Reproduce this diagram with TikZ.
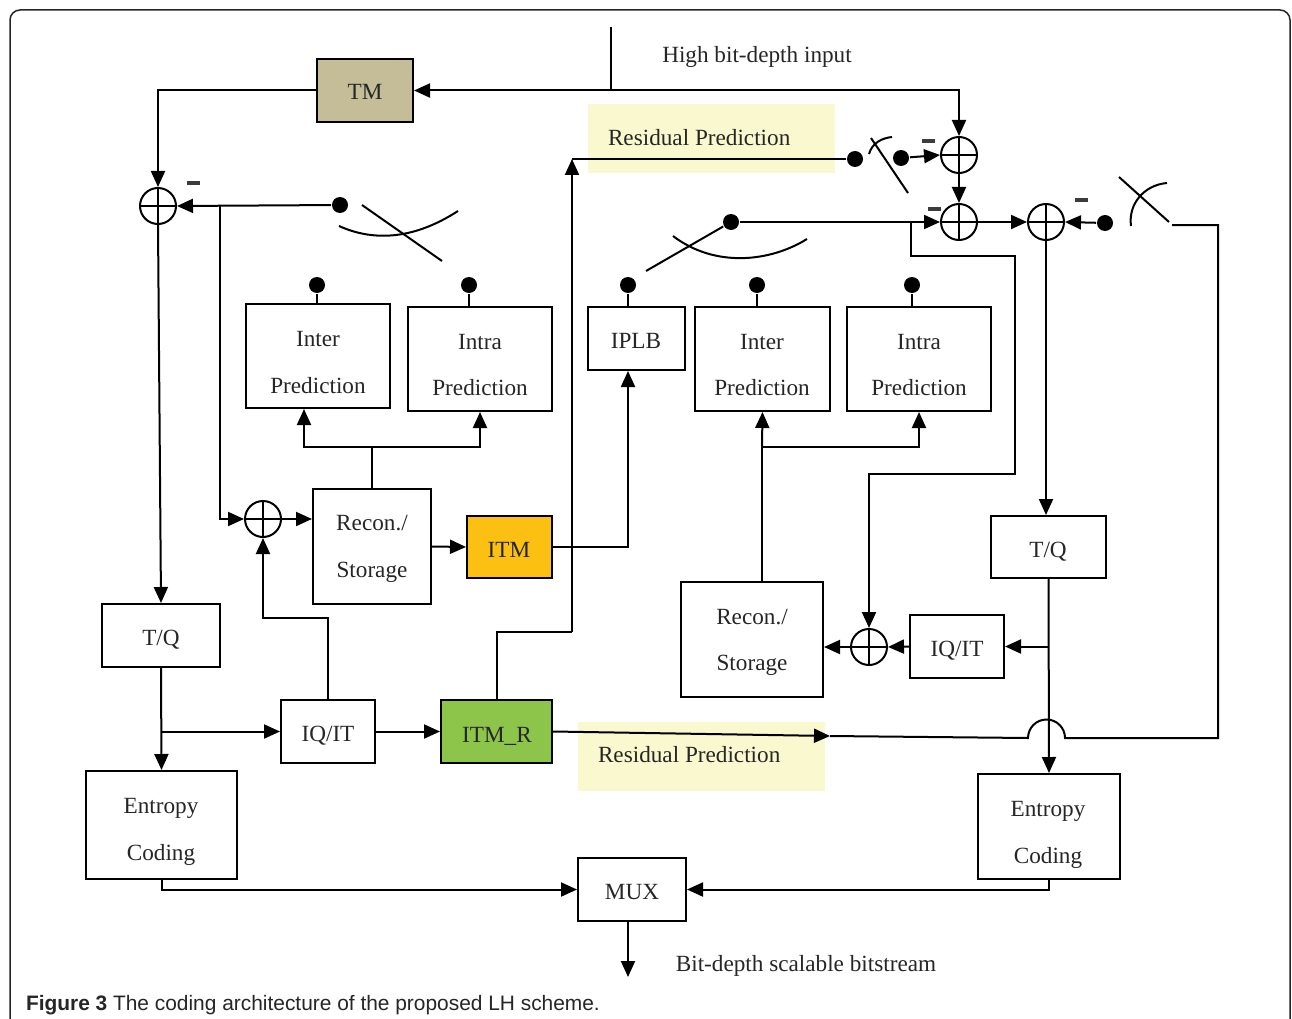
\documentclass[tikz,border=0pt]{standalone}
\usepackage{fontspec}
\setmainfont{Liberation Serif}
\setsansfont{Liberation Sans}
\usetikzlibrary{arrows.meta,calc}
\definecolor{tmc}{HTML}{C4BD97}
\definecolor{itmc}{HTML}{FCC013}
\definecolor{itmrc}{HTML}{8DC54B}
\definecolor{rpc}{HTML}{FAF8CF}
\definecolor{txt}{HTML}{262626}
\begin{document}
\begin{tikzpicture}[x=1pt,y=-1pt, line width=2pt,
  >={Triangle[length=16pt,width=14pt]},
  box/.style={draw, rectangle, inner sep=0pt},
  adder/.style={circle, draw, minimum size=36pt, inner sep=0pt, path picture={
     \draw (path picture bounding box.north) -- (path picture bounding box.south)
           (path picture bounding box.west) -- (path picture bounding box.east);}},
  dot/.style={circle, fill, inner sep=0pt, minimum size=16pt},
  lbl/.style={text=txt, font=\fontsize{23.2}{27}\selectfont, inner sep=0pt},
  bt/.style={lbl, anchor=base},
  minus/.style={rectangle, fill=txt!90, inner sep=0pt, minimum width=13pt, minimum height=4.5pt},
  rpbox/.style={rectangle, fill=rpc, inner sep=0pt, minimum width=247pt, minimum height=69pt}
]
\useasboundingbox (0,0) rectangle (1292,1019);
\fill[white] (0,0) rectangle (1292,1019);
% outer frame
\draw[line width=1.5pt, draw=black!85, rounded corners=10pt] (10,1040) -- (10,10) -- (1290,10) -- (1290,1040);

% residual prediction backgrounds
\node[rpbox] (rpt) at (711.5,138.5) {};
\node[rpbox] (rpb) at (701.5,756.5) {};
\node[bt, anchor=base west] (rptl) at (607,145.5) {Residual Prediction};
\node[bt, anchor=base west] (rpbl) at (597,762.5) {Residual Prediction};

% boxes
\node[box, fill=tmc, minimum width=96pt, minimum height=63pt] (TM) at (365,90.5) {};
\node[box, minimum width=144pt, minimum height=104pt] (InterL) at (318,356) {};
\node[box, minimum width=144pt, minimum height=104pt] (IntraL) at (480,359) {};
\node[box, minimum width=118pt, minimum height=115pt] (ReconL) at (372,546.5) {};
\node[box, fill=itmc, minimum width=85pt, minimum height=62pt] (ITM) at (509.5,547) {};
\node[box, minimum width=97pt, minimum height=63pt] (IPLB) at (636.5,338.5) {};
\node[box, minimum width=135pt, minimum height=104pt] (InterR) at (762.5,359) {};
\node[box, minimum width=144pt, minimum height=104pt] (IntraR) at (919,359) {};
\node[box, minimum width=118pt, minimum height=63pt] (TQL) at (161,635.5) {};
\node[box, minimum width=94pt, minimum height=63pt] (IQL) at (328,731.5) {};
\node[box, fill=itmrc, minimum width=111pt, minimum height=63pt] (ITMR) at (496.5,731.5) {};
\node[box, minimum width=142pt, minimum height=115pt] (ReconR) at (752,639.5) {};
\node[box, minimum width=94pt, minimum height=63pt] (IQR) at (957,646.5) {};
\node[box, minimum width=115pt, minimum height=62pt] (TQR) at (1048.5,547) {};
\node[box, minimum width=151pt, minimum height=108pt] (EntL) at (161.5,825) {};
\node[box, minimum width=142pt, minimum height=105pt] (EntR) at (1049,826.5) {};
\node[box, minimum width=108pt, minimum height=63pt] (MUX) at (632,889.5) {};

% box texts
\node[bt] (TMt) at (365,99.5) {TM};
\node[bt] (InterLa) at (318,346.5) {Inter};
\node[bt] (InterLb) at (318,393.5) {Prediction};
\node[bt] (IntraLa) at (480,349.5) {Intra};
\node[bt] (IntraLb) at (480,395.5) {Prediction};
\node[bt] (ReconLa) at (372,530.5) {Recon./};
\node[bt] (ReconLb) at (372,577.5) {Storage};
\node[bt] (ITMt) at (509,557.5) {ITM};
\node[bt] (IPLBt) at (636,348.5) {IPLB};
\node[bt] (InterRa) at (762,349.5) {Inter};
\node[bt] (InterRb) at (762,395.5) {Prediction};
\node[bt] (IntraRa) at (919,349.5) {Intra};
\node[bt] (IntraRb) at (919,395.5) {Prediction};
\node[bt] (TQLt) at (161,645.5) {T/Q};
\node[bt] (IQLt) at (328,741.5) {IQ/IT};
\node[bt] (ITMRt) at (497,742.5) {ITM\_R};
\node[bt] (ReconRa) at (752,624.5) {Recon./};
\node[bt] (ReconRb) at (752,670.5) {Storage};
\node[bt] (IQRt) at (957,656.5) {IQ/IT};
\node[bt] (TQRt) at (1048,557.5) {T/Q};
\node[bt] (EntLa) at (161,813.5) {Entropy};
\node[bt] (EntLb) at (161,860.5) {Coding};
\node[bt] (EntRa) at (1048,816.5) {Entropy};
\node[bt] (EntRb) at (1048,863.5) {Coding};
\node[bt] (MUXt) at (632,899.5) {MUX};

% adders
\node[adder] (AL) at (158,206) {};
\node[adder] (AM) at (263,519) {};
\node[adder] (A1) at (959,155) {};
\node[adder] (A2) at (959,222) {};
\node[adder] (A3) at (1046,222) {};
\node[adder] (AR) at (869,647) {};

% minus signs
\node[minus] (mL) at (193,183) {};
\node[minus] (m1) at (928,141) {};
\node[minus] (m2) at (934,209) {};
\node[minus] (m3) at (1081,200) {};

% dots
\node[dot] (dSL) at (340,205) {};
\node[dot] (dInterL) at (317,285) {};
\node[dot] (dIntraL) at (469,285) {};
\node[dot] (dIPLB) at (628,285) {};
\node[dot] (dInterR) at (757,285) {};
\node[dot] (dIntraR) at (912,285) {};
\node[dot] (dSR) at (731,222) {};
\node[dot] (dT1) at (855,159) {};
\node[dot] (dT2) at (901,158) {};
\node[dot] (dA3) at (1105,223) {};

% labels
\node[bt] (hin) at (757,62.5) {High bit-depth input};
\node[bt] (bout) at (806,971.5) {Bit-depth scalable bitstream};
\node[anchor=base west, inner sep=0pt, text=txt, font=\sffamily\fontsize{20.9}{24}\selectfont] (cap) at (25,1010)
  {\textbf{Figure 3} The coding architecture of the proposed LH scheme.};

% coordinates
\coordinate (in) at (611,27);
\coordinate (j1) at (611,90.5);
\coordinate (jL) at (220,206);
\coordinate (jRL) at (372,447);
\coordinate (jRR) at (762,447);
\coordinate (k1) at (572,632);
\coordinate (rp) at (572,159);
\coordinate (jR) at (911,222);
\coordinate (sw) at (1172,225);
\coordinate (rpa) at (830,736);
\coordinate (out) at (628,977);

% switches (drawn shapes)
\draw (362,205) -- (442,261);
\draw (339,226) .. controls (370,240) and (410,242) .. (458,211);
\draw (646,271) -- (dSR);
\draw (673,236) .. controls (715,268) and (770,262) .. (807,239);
\draw (871,138) -- (908,193);
\draw (869,154) .. controls (872,143) and (882,138) .. (892,137);
\draw (1119,177) -- (1169,222);
\draw (1131,226) .. controls (1128,204) and (1144,185) .. (1167,183);

% connectors
\draw (in) -- (j1);
\draw[->] (j1) -- (TM.east);
\draw[->] (j1) -| (A1.north);
\draw[->] (TM.west) -| (AL.north);
\draw[->] (dSL) -- (AL.east);
\draw[->] (jL) |- (AM.west);
\draw[->] (AL.south) -- (TQL.north);
\draw (dInterL) -- (dInterL |- InterL.north);
\draw (dIntraL) -- (dIntraL |- IntraL.north);
\draw (dIPLB) -- (dIPLB |- IPLB.north);
\draw (dInterR) -- (dInterR |- InterR.north);
\draw (dIntraR) -- (dIntraR |- IntraR.north);
\draw (ReconL.north) -- (jRL);
\draw[->] (jRL) -| ([xshift=-14pt]InterL.south);
\draw[->] (jRL) -| (IntraL.south);
\draw[->] (AM.east) -- (AM.east -| ReconL.west);
\draw[->] (IQL.north) -- ++(0,-81) -| (AM.south);
\draw[->] (ReconL.east) -- (ITM.west);
\draw[->] (ITM.east) -| ([xshift=-8.5pt]IPLB.south);
\draw (ITMR.north) |- (k1);
\draw[->] (k1) -- (rp);
\draw (rp) -- (dT1);
\draw[->] (dT2) -- (A1.west);
\draw[->] (A1.south) -- (A2.north);
\draw[->] (dSR) -- (A2.west);
\draw[->] (jR) -- ++(0,34) -| ++(104,218) -| (AR.north);
\draw[->] (A2.east) -- (A3.west);
\draw[->] (dA3) -- (A3.east);
\draw[->] (A3.south) -- (A3.south |- TQR.north);
\draw[->] (ITMR.east) -- (rpa);
\draw (rpa) -- (1028,738) arc[start angle=180, end angle=360, radius=18.5] -- (1218,738) |- (sw);
\draw[->] (TQR.south) -- (EntR.north);
\draw[->] (TQR.south |- IQR.east) -- (IQR.east);
\draw[->] (IQR.west) -- (AR.east);
\draw[->] (AR.west) -- (AR.west -| ReconR.east);
\draw (ReconR.north -| jRR) -- (jRR);
\draw[->] (jRR) -- (InterR.south);
\draw[->] (jRR) -| (IntraR.south);
\draw[->] (TQL.south) -- (EntL.north);
\draw[->] (TQL.south |- IQL.west) -- (IQL.west);
\draw[->] (IQL.east) -- (ITMR.west);
\draw[->] (EntL.south) |- (MUX.west);
\draw[->] (EntR.south) |- (MUX.east);
\draw[->] (MUX.south -| out) -- (out);
\end{tikzpicture}
\end{document}
